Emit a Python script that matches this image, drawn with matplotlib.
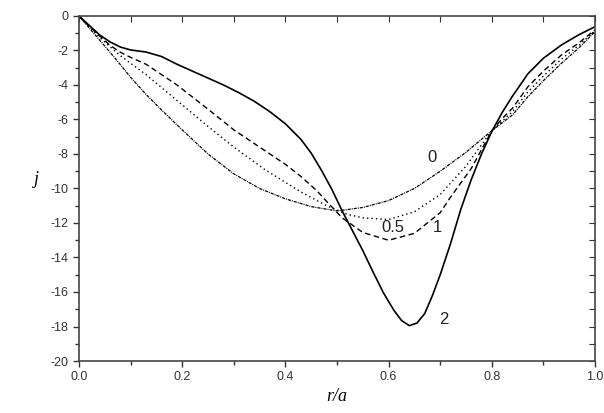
import numpy as np
import matplotlib.pyplot as plt
from matplotlib.ticker import MultipleLocator

# Values (r/a, j)
x0 = [0, 0.04, 0.07, 0.10, 0.13, 0.16, 0.20, 0.25, 0.30, 0.35, 0.40, 0.45, 0.50,
      0.55, 0.60, 0.65, 0.70, 0.75, 0.80, 0.84, 0.87, 0.90, 0.935, 0.968, 1.0]
j0 = [0, -1.4, -2.45, -3.55, -4.55, -5.45, -6.6, -8.0, -9.15, -10.0, -10.6, -11.05, -11.3,
      -11.1, -10.7, -10.0, -9.0, -7.9, -6.65, -5.74, -4.68, -3.75, -2.74, -1.87, -0.91]

x05 = [0, 0.04, 0.08, 0.13, 0.19, 0.25, 0.30, 0.36, 0.43, 0.48, 0.52, 0.55, 0.60,
       0.65, 0.70, 0.75, 0.80, 0.84, 0.87, 0.90, 0.935, 0.968, 1.0]
j05 = [0, -1.25, -2.3, -3.4, -4.9, -6.4, -7.6, -8.9, -10.2, -11.0, -11.5, -11.7, -11.8,
       -11.35, -10.35, -8.7, -6.65, -5.55, -4.4, -3.48, -2.5, -1.72, -0.85]

x1 = [0, 0.02, 0.04, 0.06, 0.08, 0.10, 0.13, 0.19, 0.25, 0.30, 0.36, 0.40, 0.43, 0.46,
      0.48, 0.51, 0.55, 0.60, 0.65, 0.70, 0.72, 0.76, 0.80, 0.82, 0.84, 0.87, 0.90,
      0.935, 0.968, 1.0]
j1 = [0, -0.6, -1.15, -1.7, -2.1, -2.4, -2.8, -4.0, -5.4, -6.6, -7.8, -8.6, -9.3, -10.1,
      -10.75, -11.7, -12.55, -13.0, -12.6, -11.4, -10.5, -8.85, -6.65, -5.95, -5.35, -4.1, -3.2,
      -2.26, -1.58, -0.8]

x2 = [0, 0.02, 0.04, 0.06, 0.08, 0.10, 0.13, 0.16, 0.19, 0.22, 0.25, 0.28, 0.31, 0.34,
      0.37, 0.40, 0.43, 0.45, 0.47, 0.49, 0.51, 0.53, 0.55, 0.57, 0.59, 0.61, 0.625,
      0.64, 0.655, 0.67, 0.685, 0.70, 0.72, 0.74, 0.76, 0.78, 0.80, 0.82, 0.84, 0.87,
      0.90, 0.935, 0.968, 1.0]
j2 = [0, -0.55, -1.1, -1.5, -1.8, -1.97, -2.09, -2.35, -2.8, -3.2, -3.6, -4.0, -4.45, -4.95,
      -5.55, -6.25, -7.15, -7.95, -8.95, -10.05, -11.3, -12.45, -13.6, -14.85, -16.05, -17.05, -17.65,
      -17.95, -17.8, -17.25, -16.2, -15.0, -13.2, -11.2, -9.5, -8.0, -6.7, -5.6, -4.65, -3.35,
      -2.45, -1.68, -1.1, -0.62]

labels = ['0', '0.5', '1', '2']
label_pos = [(0.684, -8.2), (0.609, -12.25), (0.694, -12.25), (0.707, -17.6)]

plt.rcParams['font.family'] = ['Liberation Sans', 'DejaVu Sans']
fig = plt.figure(figsize=(6.04, 4.13), dpi=100)
ax = fig.add_axes([0.1308, 0.1259, 0.8543, 0.8354])

ax.plot(x0, j0, color='black', lw=0.9, ls=(0, (2.5, 0.8, 0.8, 0.8)))
ax.plot(x05, j05, color='black', lw=1.0, ls=(0, (1, 2.2)))
ax.plot(x1, j1, color='black', lw=1.0, ls=(0, (4, 2.5)))
ax.plot(x2, j2, color='black', lw=1.2)

for t, (tx, ty) in zip(labels, label_pos):
    ax.text(tx, ty, t, fontsize=12, ha='center', va='center', color='#222222')

ax.set_xlim(0, 1.0)
ax.set_ylim(-20, 0)
ax.xaxis.set_major_locator(MultipleLocator(0.2))
ax.xaxis.set_minor_locator(MultipleLocator(0.1))
ax.yaxis.set_major_locator(MultipleLocator(2))
ax.yaxis.set_minor_locator(MultipleLocator(1))
ax.xaxis.set_major_formatter(lambda v, p: f'{v:.1f}')
ax.yaxis.set_major_formatter(lambda v, p: f'{v:.0f}')
ax.tick_params(which='both', direction='out', width=1.0, color='#333333',
               labelsize=9, labelcolor='#333333')
ax.tick_params(which='major', length=4)
ax.tick_params(which='minor', length=3)
for s in ax.spines.values():
    s.set_linewidth(1.2)
    s.set_color('#444444')

top = ax.secondary_xaxis('top')
top.xaxis.set_major_locator(MultipleLocator(0.1))
top.tick_params(direction='in', length=4, labeltop=False, color='#333333')
top.spines['top'].set_visible(False)
right = ax.secondary_yaxis('right')
right.yaxis.set_major_locator(MultipleLocator(1))
right.tick_params(direction='in', length=4, labelright=False, color='#333333')
right.spines['right'].set_visible(False)

ax.set_xlabel('r/a', family='Liberation Serif', style='italic', fontsize=13, labelpad=3)
ax.set_ylabel('j', family='Liberation Serif', style='italic', fontsize=13,
              rotation=0, labelpad=10)

fig.savefig('out.png', dpi=100)
